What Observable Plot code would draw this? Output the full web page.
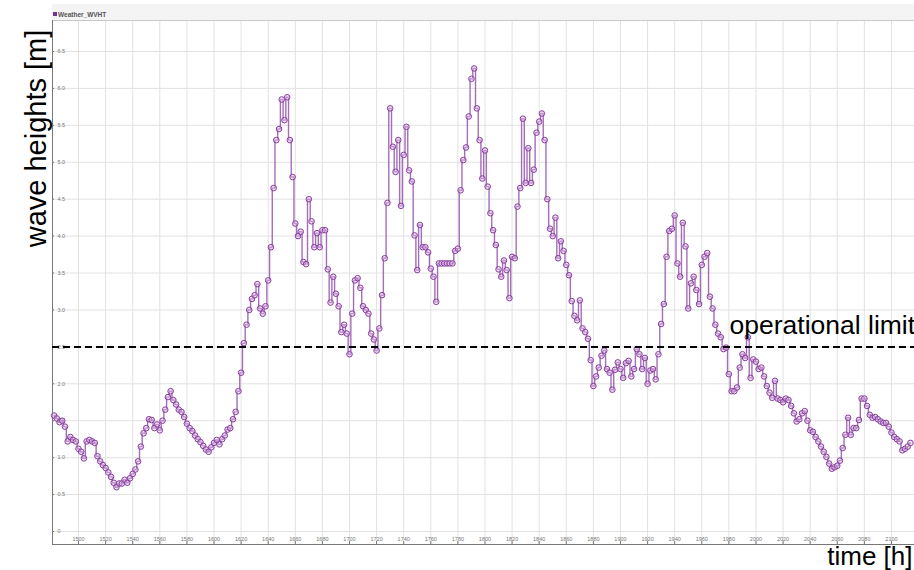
<!DOCTYPE html>
<html><head><meta charset="utf-8">
<script src="https://cdn.jsdelivr.net/npm/d3@7"></script>
<script src="https://cdn.jsdelivr.net/npm/@observablehq/plot@0.6"></script>
<style>
html,body{margin:0;padding:0;background:#fff;overflow:hidden;width:914px;height:570px}
#head{height:20px;position:relative}
#strip{position:absolute;left:52px;top:4px;right:0;height:16px;background:#f4f4f4;font:bold 6.5px "Liberation Sans",Arial,sans-serif;color:#555;}
#strip .sw{position:absolute;left:1px;top:8px;width:4px;height:4px;background:#7b2f95}
#strip .lb{position:absolute;left:6px;top:6.5px;line-height:7px;white-space:nowrap}
#chart svg{display:block}
</style></head>
<body>
<div id="head"><div id="strip"><span class="sw"></span><span class="lb">Weather_WVHT</span></div></div>
<div id="chart"></div>
<script>
// time [h] sampled every 2 h
const hours = d3.range(1482, 2115, 2);
// wave heights [m]
const wvhtA = [1.57,1.53,1.48,1.50,1.42,1.22,1.28,1.24,1.22,1.12,1.08,0.99,1.22,1.24,1.22,1.20,1.02,0.95,0.90,0.86,
  0.80,0.74,0.66,0.60,0.65,0.65,0.70,0.66,0.72,0.78,0.84,0.95,1.15,1.33,1.40,1.52,1.51,1.40,1.45,1.37,
  1.50,1.65,1.82,1.90,1.78,1.72,1.65,1.62,1.55,1.46,1.40,1.36,1.30,1.25,1.21,1.16,1.11,1.08,1.14,1.20,1.24];
const wvhtB = [1.18,1.25,1.30,1.38,1.40,1.52,1.62,1.90,2.15,2.55,2.80,3.00,3.15,3.20,3.35,3.02,2.95,3.05,3.40,3.85,
  4.65,5.30,5.45,5.85,5.57,5.88,5.30,4.80,4.17,4.00,4.06,3.65,3.62,4.50,4.20,3.85,4.04,3.85,4.08,4.08,
  3.55,3.10,3.45,3.22,3.05,2.70,2.80,2.68,2.40,2.95,3.40,3.43,3.30,3.05,3.00,2.95,2.68,2.60,2.45];
const wvhtC = [2.75,3.20,3.70,4.45,5.73,5.21,4.87,5.30,4.41,5.10,5.48,4.89,4.74,4.01,3.54,4.15,3.85,3.85,3.78,3.56,
  3.45,3.11,3.63,3.63,3.63,3.63,3.63,3.63,3.80,3.83,4.62,5.03,5.20,5.62,6.13,6.27,5.73,5.30,4.78,5.16,
  4.67,4.31,4.08,3.88,3.55,3.45,3.67,3.54,3.16,3.72,3.70,4.40,4.65,5.59,4.72,5.19,4.72,4.90,5.40,5.55,
  5.66,5.30,4.50,4.10];
const wvhtD = [4.00,4.25,3.70,3.93,3.80,3.61,3.47,3.12,2.92,2.86,3.13,2.75,2.70,2.61,2.32,1.97,2.10,2.22,2.38,2.45,
  2.20,2.15,1.92,2.19,2.29,2.20,2.08,2.28,2.31,2.10,2.20,2.47,2.40,2.20,2.35,2.00,2.18,2.20,2.06,2.40,
  2.81,3.08,3.72,4.07,4.10,4.28,3.63,3.45,4.18,3.86,3.02,3.36,3.45,3.27,3.08,3.61,3.72,3.77,3.18,3.02,
  2.80,2.68];
const wvhtE = [2.63,2.47,2.49,2.13,1.90,1.90,1.95,2.22,2.40,2.35,2.63,2.08,2.33,2.30,2.20,2.22,2.10,1.97,1.88,1.81,
  2.04,1.80,1.78,1.75,1.80,1.78,1.70,1.60,1.49,1.52,1.60,1.63,1.50,1.37,1.35,1.28,1.22,1.15,1.08,1.01,
  0.92,0.85,0.87,0.89,0.96,1.13,1.31,1.54,1.31,1.40,1.40,1.51,1.80,1.80,1.70,1.58,1.54,1.55,1.52,1.49,
  1.47,1.47,1.42,1.34,1.28,1.25,1.22,1.10,1.12,1.15,1.20];
const wvht = [...wvhtA, ...wvhtB, ...wvhtC, ...wvhtD, ...wvhtE];
const data = hours.map((h, i) => ({h, v: wvht[i]}));

const xTicks = d3.range(1500, 2101, 20);
const yTicks = [0,0.5,1,1.5,2,2.5,3,3.5,4,4.5,5,5.5,6,6.5];
const limit = [2.5];
const font = "Liberation Sans, Arial, Helvetica, sans-serif";

const plot = Plot.plot({
  width: 914, height: 550,
  marginLeft: 52, marginRight: 0, marginTop: 0, marginBottom: 26,
  style: {fontFamily: font, background: "#fff", overflow: "visible"},
  x: {domain: [1480.8, 2117.0]},
  y: {domain: [-0.176, 6.9195]},
  marks: [
    Plot.gridX(xTicks, {stroke: "#e2e2e2", strokeOpacity: 1}),
    Plot.gridY(yTicks, {stroke: "#e2e2e2", strokeOpacity: 1}),
    Plot.axisX(xTicks, {anchor: "bottom", tickSize: -3, tickPadding: -4.5, fontSize: 5.5, fill: "#777", stroke: "#777", tickFormat: d => String(d), label: null}),
    Plot.axisY(yTicks, {anchor: "left", tickSize: -2, tickPadding: -3, textAnchor: "start", fontSize: 5.5, fill: "#777", stroke: "#777", tickFormat: d => d === 0 ? "0" : d.toFixed(1), label: null}),
    Plot.frame({anchor: "top", stroke: "#c8c8c8"}),
    Plot.frame({anchor: "left", stroke: "#777"}),
    Plot.frame({anchor: "bottom", stroke: "#777"}),
    Plot.line(data, {x: "h", y: "v", curve: "step", stroke: "#9553ad", strokeWidth: 1.4, strokeOpacity: 0.85}),
    Plot.dot(data, {x: "h", y: "v", r: 2.8, stroke: "#8a3a9f", strokeWidth: 1, fill: "#dcc3e6", fillOpacity: 0.45}),
    Plot.ruleY(limit, {stroke: "#000", strokeWidth: 2, strokeDasharray: "7,4"}),
    Plot.text(limit, {y: d => d, text: () => "operational limit", frameAnchor: "left", dx: 677, dy: -13, textAnchor: "start", lineAnchor: "bottom", fontSize: 26.5, fill: "#000"}),
    Plot.text(["wave heights [m]"], {frameAnchor: "top-left", dx: -16, dy: 118, rotate: -90, textAnchor: "middle", lineAnchor: "middle", fontSize: 29, fill: "#000"}),
    Plot.text(["time [h]"], {frameAnchor: "bottom-right", dx: -2, dy: 20, textAnchor: "end", lineAnchor: "bottom", fontSize: 26, fill: "#000"})
  ]
});
document.getElementById("chart").appendChild(plot);
</script>
</body></html>
